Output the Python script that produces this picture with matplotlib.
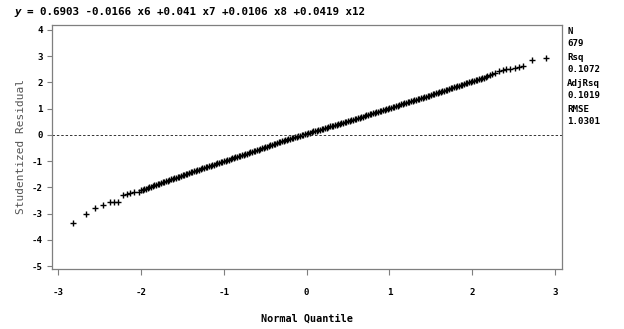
import matplotlib
matplotlib.use("Agg")
import matplotlib.pyplot as plt

# Visible tail points (normal quantile, studentized residual)
left_q = [-2.82, -2.67, -2.56, -2.46, -2.38, -2.33, -2.28, -2.22, -2.17, -2.13, -2.08, -2.03]
left_r = [-3.36, -3.00, -2.80, -2.67, -2.57, -2.55, -2.55, -2.29, -2.24, -2.22, -2.19, -2.16]

right_q = [2.18, 2.21, 2.24, 2.28, 2.32, 2.37, 2.41, 2.46, 2.51, 2.56, 2.61, 2.72, 2.89]
right_r = [2.24, 2.27, 2.32, 2.37, 2.42, 2.47, 2.50, 2.51, 2.54, 2.57, 2.62, 2.85, 2.92]

# Dense middle band (read along the plotted points)
mid_q = [-2.00, -1.98, -1.96, -1.94, -1.92, -1.90, -1.88, -1.86, -1.84, -1.82,
         -1.80, -1.78, -1.76, -1.74, -1.72, -1.70, -1.68, -1.66, -1.64, -1.62,
         -1.60, -1.58, -1.56, -1.54, -1.52, -1.50, -1.48, -1.46, -1.44, -1.42,
         -1.40, -1.38, -1.36, -1.34, -1.32, -1.30, -1.28, -1.26, -1.24, -1.22,
         -1.20, -1.18, -1.16, -1.14, -1.12, -1.10, -1.08, -1.06, -1.04, -1.02,
         -1.00, -0.98, -0.96, -0.94, -0.92, -0.90, -0.88, -0.86, -0.84, -0.82,
         -0.80, -0.78, -0.76, -0.74, -0.72, -0.70, -0.68, -0.66, -0.64, -0.62,
         -0.60, -0.58, -0.56, -0.54, -0.52, -0.50, -0.48, -0.46, -0.44, -0.42,
         -0.40, -0.38, -0.36, -0.34, -0.32, -0.30, -0.28, -0.26, -0.24, -0.22,
         -0.20, -0.18, -0.16, -0.14, -0.12, -0.10, -0.08, -0.06, -0.04, -0.02,
         0.00, 0.02, 0.04, 0.06, 0.08, 0.10, 0.12, 0.14, 0.16, 0.18,
         0.20, 0.22, 0.24, 0.26, 0.28, 0.30, 0.32, 0.34, 0.36, 0.38,
         0.40, 0.42, 0.44, 0.46, 0.48, 0.50, 0.52, 0.54, 0.56, 0.58,
         0.60, 0.62, 0.64, 0.66, 0.68, 0.70, 0.72, 0.74, 0.76, 0.78,
         0.80, 0.82, 0.84, 0.86, 0.88, 0.90, 0.92, 0.94, 0.96, 0.98,
         1.00, 1.02, 1.04, 1.06, 1.08, 1.10, 1.12, 1.14, 1.16, 1.18,
         1.20, 1.22, 1.24, 1.26, 1.28, 1.30, 1.32, 1.34, 1.36, 1.38,
         1.40, 1.42, 1.44, 1.46, 1.48, 1.50, 1.52, 1.54, 1.56, 1.58,
         1.60, 1.62, 1.64, 1.66, 1.68, 1.70, 1.72, 1.74, 1.76, 1.78,
         1.80, 1.82, 1.84, 1.86, 1.88, 1.90, 1.92, 1.94, 1.96, 1.98,
         2.00, 2.02, 2.04, 2.06, 2.08, 2.10, 2.12, 2.14, 2.16]
mid_r = [-2.12, -2.10, -2.07, -2.05, -2.03, -2.00, -1.98, -1.95, -1.93, -1.90,
         -1.88, -1.86, -1.84, -1.81, -1.79, -1.77, -1.75, -1.72, -1.70, -1.68,
         -1.66, -1.63, -1.61, -1.59, -1.57, -1.54, -1.52, -1.50, -1.48, -1.45,
         -1.43, -1.41, -1.39, -1.37, -1.35, -1.32, -1.30, -1.28, -1.26, -1.24,
         -1.22, -1.20, -1.18, -1.16, -1.14, -1.11, -1.09, -1.07, -1.05, -1.03,
         -1.01, -0.99, -0.97, -0.95, -0.93, -0.90, -0.88, -0.86, -0.84, -0.82,
         -0.80, -0.78, -0.76, -0.73, -0.71, -0.69, -0.67, -0.64, -0.62, -0.60,
         -0.58, -0.56, -0.54, -0.51, -0.49, -0.47, -0.45, -0.42, -0.40, -0.38,
         -0.36, -0.34, -0.32, -0.29, -0.27, -0.25, -0.23, -0.20, -0.18, -0.16,
         -0.14, -0.12, -0.10, -0.09, -0.07, -0.05, -0.03, -0.01, 0.01, 0.03,
         0.05, 0.07, 0.09, 0.11, 0.13, 0.14, 0.16, 0.18, 0.20, 0.22,
         0.24, 0.26, 0.28, 0.30, 0.32, 0.33, 0.35, 0.37, 0.39, 0.41,
         0.43, 0.45, 0.47, 0.49, 0.51, 0.52, 0.54, 0.56, 0.58, 0.60,
         0.62, 0.64, 0.66, 0.68, 0.70, 0.72, 0.74, 0.76, 0.78, 0.80,
         0.82, 0.84, 0.86, 0.88, 0.90, 0.92, 0.94, 0.96, 0.98, 1.00,
         1.02, 1.04, 1.06, 1.08, 1.10, 1.12, 1.14, 1.16, 1.18, 1.20,
         1.22, 1.24, 1.26, 1.28, 1.30, 1.32, 1.34, 1.36, 1.38, 1.40,
         1.42, 1.44, 1.46, 1.48, 1.50, 1.52, 1.54, 1.56, 1.58, 1.60,
         1.62, 1.64, 1.66, 1.69, 1.71, 1.73, 1.75, 1.78, 1.80, 1.82,
         1.84, 1.86, 1.88, 1.90, 1.92, 1.94, 1.96, 1.98, 2.00, 2.02,
         2.04, 2.06, 2.08, 2.10, 2.12, 2.14, 2.16, 2.18, 2.20]

x_ticks = [-3, -2, -1, 0, 1, 2, 3]
y_ticks = [-5, -4, -3, -2, -1, 0, 1, 2, 3, 4]

title_var = "y"
title_rest = "= 0.6903 -0.0166 x6 +0.041 x7 +0.0106 x8 +0.0419 x12"
stat_labels = ["N", "679", "Rsq", "0.1072", "AdjRsq", "0.1019", "RMSE", "1.0301"]

W, H = 624, 329
fig = plt.figure(figsize=(W / 100, H / 100), dpi=100)
L, R, T, B = 51.7, 561.7, 25.0, 268.5
ax = fig.add_axes([L / W, 1 - B / H, (R - L) / W, (B - T) / H])

mono = "DejaVu Sans Mono"
frame_col = "#7f7f7f"

q_all = left_q + mid_q + right_q
r_all = left_r + mid_r + right_r
ax.plot(q_all, r_all, linestyle="none", marker="+", markersize=4.6,
        markeredgewidth=1.0, color="black")
ax.axhline(0, color="#333333", linestyle=(0, (2.5, 2)), linewidth=0.7)

ax.set_xlim(-3.08, 3.08)
ax.set_ylim(-5.095, 4.19)
ax.set_xticks(x_ticks)
ax.set_yticks(y_ticks)
ax.set_xticklabels([str(v) for v in x_ticks], fontfamily=mono, fontweight="bold", fontsize=6.6)
ax.set_yticklabels([str(v) for v in y_ticks], fontfamily=mono, fontweight="bold", fontsize=6.6)
ax.tick_params(axis="x", direction="out", length=4.3, width=0.8, color=frame_col, pad=9.5)
ax.tick_params(axis="y", direction="out", length=3.8, width=0.8, color=frame_col, pad=2.5)
for s in ax.spines.values():
    s.set_color(frame_col)
    s.set_linewidth(0.9)

ax.set_xlabel("Normal Quantile", fontfamily=mono, fontweight="bold", fontsize=7.3, labelpad=12)
ax.set_ylabel("Studentized Residual", fontfamily=mono, fontsize=8, color="#555555", labelpad=4)

fs_title = 7.8
char_w = 0.602 * fs_title * 100 / 72  # monospace advance in pixels
fig.text(14 / W, 1 - 12 / H, title_var, fontfamily=mono, fontweight="bold", fontstyle="italic",
         fontsize=fs_title, va="center", ha="left")
fig.text((14 + 2 * char_w) / W, 1 - 12 / H, title_rest, fontfamily=mono, fontweight="bold",
         fontsize=fs_title, va="center", ha="left")

ys = [32, 44, 58, 70, 84, 96, 110, 122]
for lab, yp in zip(stat_labels, ys):
    fig.text(567 / W, 1 - yp / H, lab, fontfamily=mono, fontweight="bold", fontsize=6.6,
             va="center", ha="left")

fig.savefig("out.png", dpi=100)
